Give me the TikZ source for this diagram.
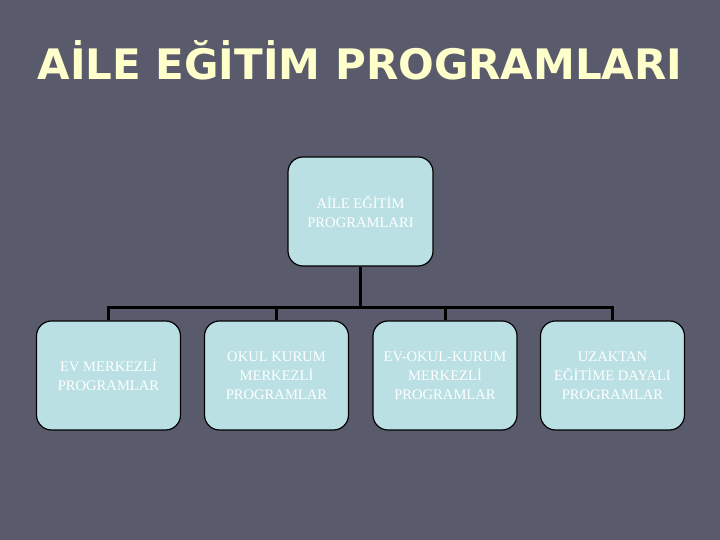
\documentclass[tikz,border=0pt]{standalone}
\usepackage{fontspec}
\setmainfont{Liberation Serif}
\newfontfamily\titlefont{DejaVu Sans}
\definecolor{slide}{RGB}{89,91,108}
\definecolor{boxfill}{RGB}{186,224,228}
\definecolor{titleyellow}{RGB}{255,255,204}
\begin{document}
\begin{tikzpicture}[x=1pt, y=1pt,
    pb/.style={draw=black, line width=1.2pt, fill=boxfill, rounded corners=15pt,
               minimum width=144pt, minimum height=109pt, align=center,
               text=white, font=\fontsize{14.6}{19}\selectfont},
    link/.style={draw=black, line width=3pt}
]
    % Slide background (fixes the 720x540 frame)
    \fill[slide] (0,0) rectangle (720,540);
    \useasboundingbox (0,0) rectangle (720,540);

    % Title
    \node[anchor=base, text=titleyellow, font=\titlefont\bfseries\fontsize{42}{48}\selectfont]
        (title) at (360, 460) {AİLE EĞİTİM PROGRAMLARI};

    % Top box
    \node[pb, minimum width=145pt] (top) at (360.5, 328.5) {AİLE EĞİTİM\\PROGRAMLARI};

    % Bottom row (y=164.5)
    \node[pb] (ev)    at (108.5, 164.5) {EV MERKEZLİ\\PROGRAMLAR};
    \node[pb] (okul)  at (276.5, 164.5) {OKUL KURUM\\MERKEZLİ\\PROGRAMLAR};
    \node[pb] (evok)  at (445.0, 164.5) {EV-OKUL-KURUM\\MERKEZLİ\\PROGRAMLAR};
    \node[pb] (uzak)  at (612.5, 164.5) {UZAKTAN\\EĞİTİME DAYALI\\PROGRAMLAR};

    % Connectors
    \coordinate (bar) at (360.5, 232);
    \draw[link] (top.south) -- (bar);
    \draw[link] (bar) -| (ev.north);
    \draw[link] (bar) -| (okul.north);
    \draw[link] (bar) -| (evok.north);
    \draw[link] (bar) -| (uzak.north);
\end{tikzpicture}
\end{document}
